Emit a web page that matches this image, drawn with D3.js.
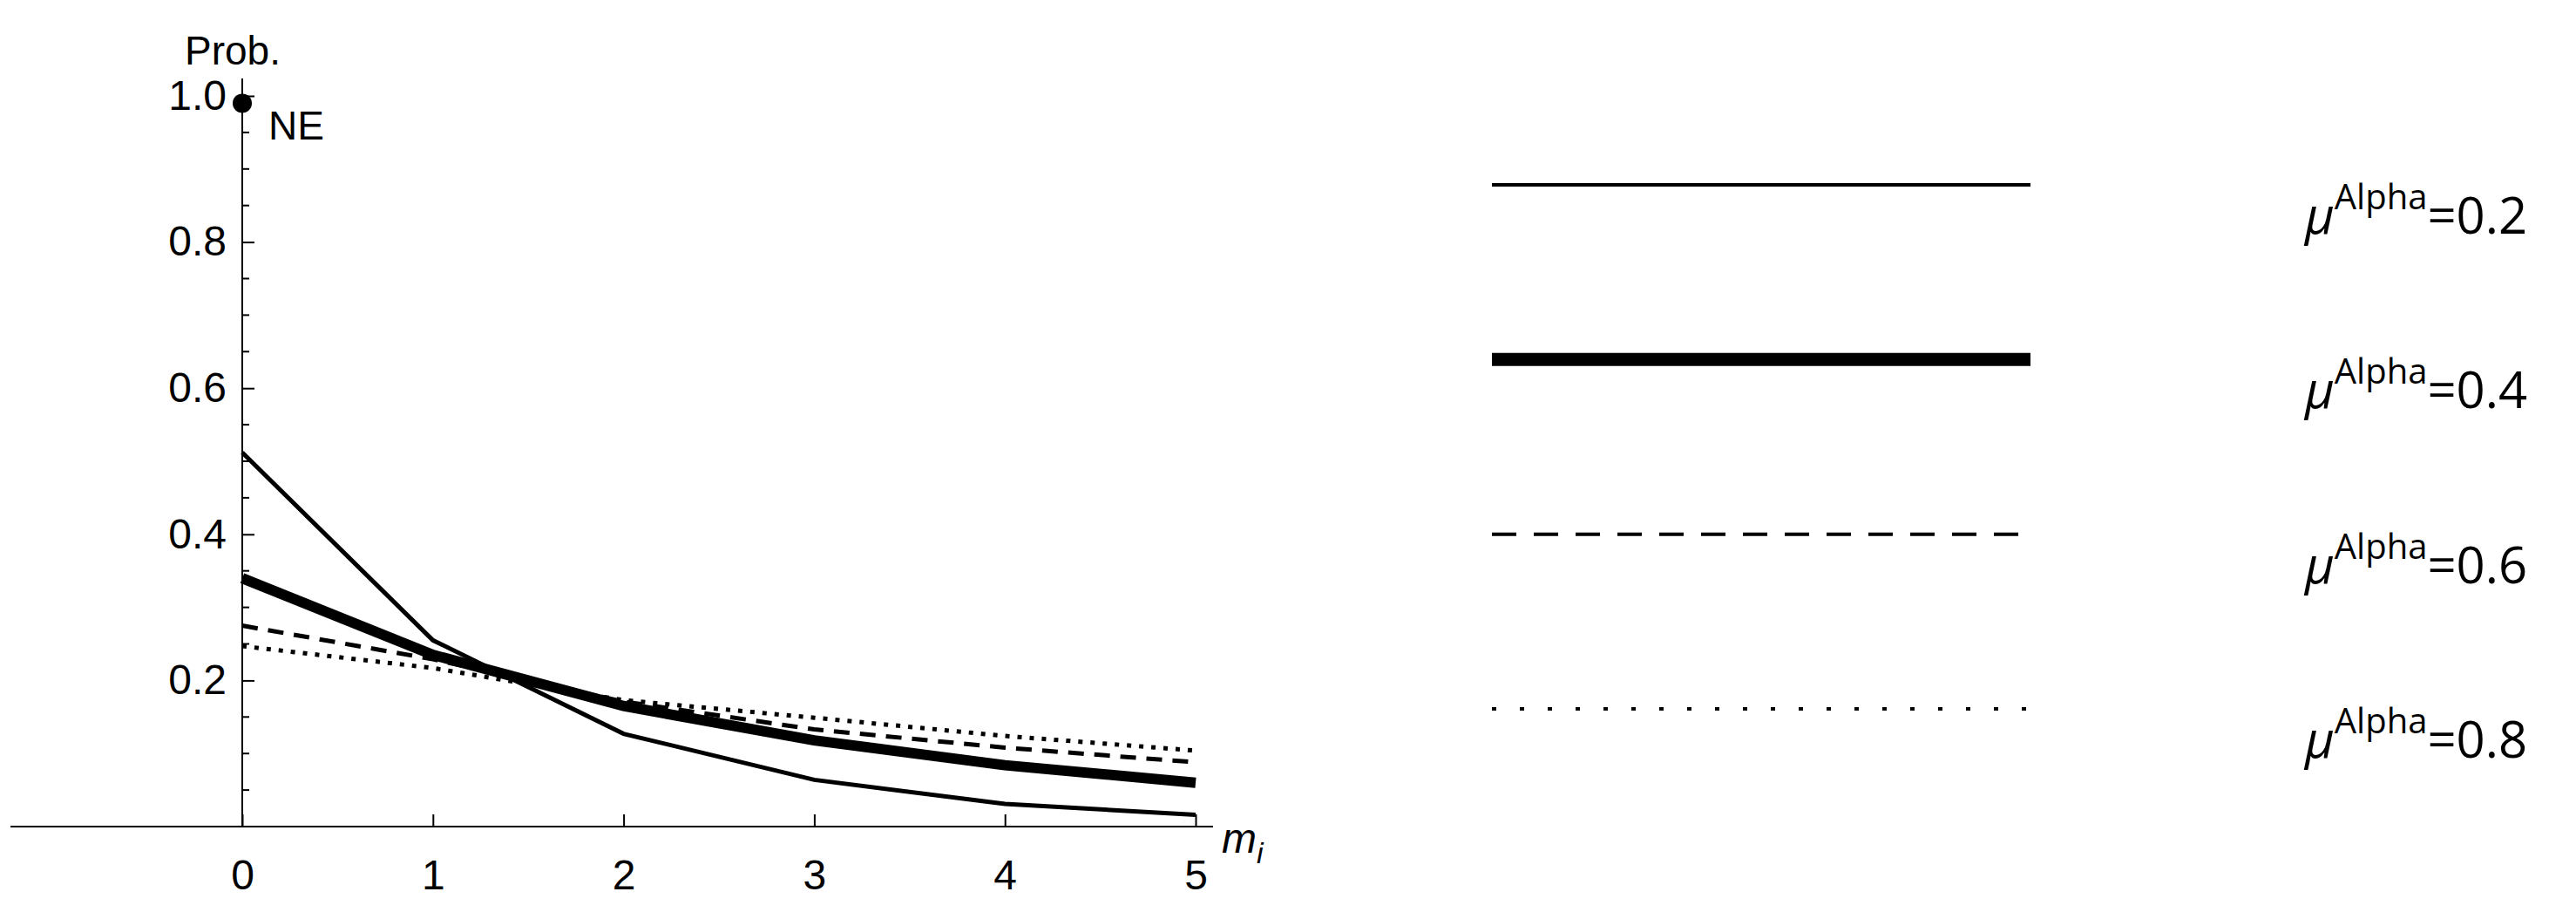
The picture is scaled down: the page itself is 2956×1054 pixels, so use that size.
<!DOCTYPE html>
<html><head><meta charset="utf-8">
<script src="https://cdn.jsdelivr.net/npm/d3@7"></script>
<style>body{margin:0;background:#fff}</style>
</head><body><svg id="svg" width="2956" height="1054"></svg>
<script>
const xs = [0,1,2,3,4,5];
const mu02 = [0.512,0.255,0.127,0.064,0.031,0.016];
const mu04 = [0.340,0.235,0.165,0.118,0.084,0.060];
const mu06 = [0.275,0.229,0.171,0.133,0.108,0.088];
const mu08 = [0.247,0.217,0.173,0.149,0.124,0.104];
const labels = ["0.2","0.4","0.6","0.8"];
const yTicks = [0.2,0.4,0.6,0.8,1.0];

const svg = d3.select("#svg");
const tickFont = "'Liberation Sans Narrow','Liberation Sans',Arial,sans-serif";
const x = d3.scaleLinear().domain([0,5]).range([278,1372]);
const y = d3.scaleLinear().domain([0,1]).range([948,110]);

// x axis
svg.append("line").attr("x1",12).attr("x2",1392).attr("y1",y(0)).attr("y2",y(0)).attr("stroke","#000").attr("stroke-width",2);
const gx = svg.append("g").attr("transform",`translate(0,${y(0)})`)
  .call(d3.axisBottom(x).tickValues(xs).tickFormat(d3.format("d")).tickSize(-14).tickPadding(38));
gx.select(".domain").remove();
gx.selectAll("text").attr("font-family",tickFont).attr("font-size",48).attr("fill","#000");
gx.selectAll("line").attr("stroke-width",2);

// y axis
svg.append("line").attr("x1",x(0)).attr("x2",x(0)).attr("y1",y(0)).attr("y2",90).attr("stroke","#000").attr("stroke-width",2);
const gy = svg.append("g").attr("transform",`translate(${x(0)},0)`)
  .call(d3.axisLeft(y).tickValues(yTicks).tickFormat(d3.format(".1f")).tickSize(-14).tickPadding(18));
gy.select(".domain").remove();
gy.selectAll("text").attr("font-family",tickFont).attr("font-size",48).attr("fill","#000");
gy.selectAll("line").attr("stroke-width",2);
const minor = d3.range(0.05,1.0,0.05).filter(v=>Math.abs(v*5-Math.round(v*5))>1e-6);
svg.selectAll(".minor").data(minor).join("line").attr("x1",x(0)).attr("x2",x(0)+8)
  .attr("y1",d=>y(d)).attr("y2",d=>y(d)).attr("stroke","#000").attr("stroke-width",2);

svg.append("text").attr("x",x(0)-66).attr("y",74).attr("font-family",tickFont).attr("font-size",46).text("Prob.");
svg.append("text").attr("x",1402).attr("y",978).attr("font-family",tickFont).attr("font-size",48).attr("font-style","italic").text("m").append("tspan").attr("font-size",34).attr("dy",12).text("i");

svg.append("circle").attr("cx",x(0)).attr("cy",y(0.99)).attr("r",11).attr("fill","#000");
svg.append("text").attr("x",x(0)+30).attr("y",y(0.99)+42).attr("font-family",tickFont).attr("font-size",46).text("NE");

const series = [
  {v:mu02,w:5,dash:null,lw:4,ld:null},
  {v:mu04,w:12,dash:null,lw:15,ld:null},
  {v:mu06,w:5,dash:"18,12",lw:4,ld:"28,20"},
  {v:mu08,w:5,dash:"5,9",lw:4,ld:"5,27"}
];
const line = d3.line().x((d,i)=>x(xs[i])).y(d=>y(d));
series.forEach(s=>{
  svg.append("path").attr("d",line(s.v)).attr("fill","none").attr("stroke","#000")
    .attr("stroke-width",s.w).attr("stroke-dasharray",s.dash);
});

// legend
const ly = d3.scalePoint().domain(labels).range([212,813]);
labels.forEach((l,i)=>{
  const s = series[i];
  svg.append("line").attr("x1",1712).attr("x2",2330).attr("y1",ly(l)).attr("y2",ly(l))
    .attr("stroke","#000").attr("stroke-width",s.lw).attr("stroke-dasharray",s.ld);
  const t = svg.append("text").attr("x",2645).attr("y",ly(l)+56).attr("font-family","'Open Sans',sans-serif").attr("font-size",58);
  t.append("tspan").attr("font-style","italic").text("μ");
  t.append("tspan").attr("font-size",40).attr("dy",-28).text("Alpha");
  t.append("tspan").attr("dy",28).text("=" + l);
});
</script></body></html>
